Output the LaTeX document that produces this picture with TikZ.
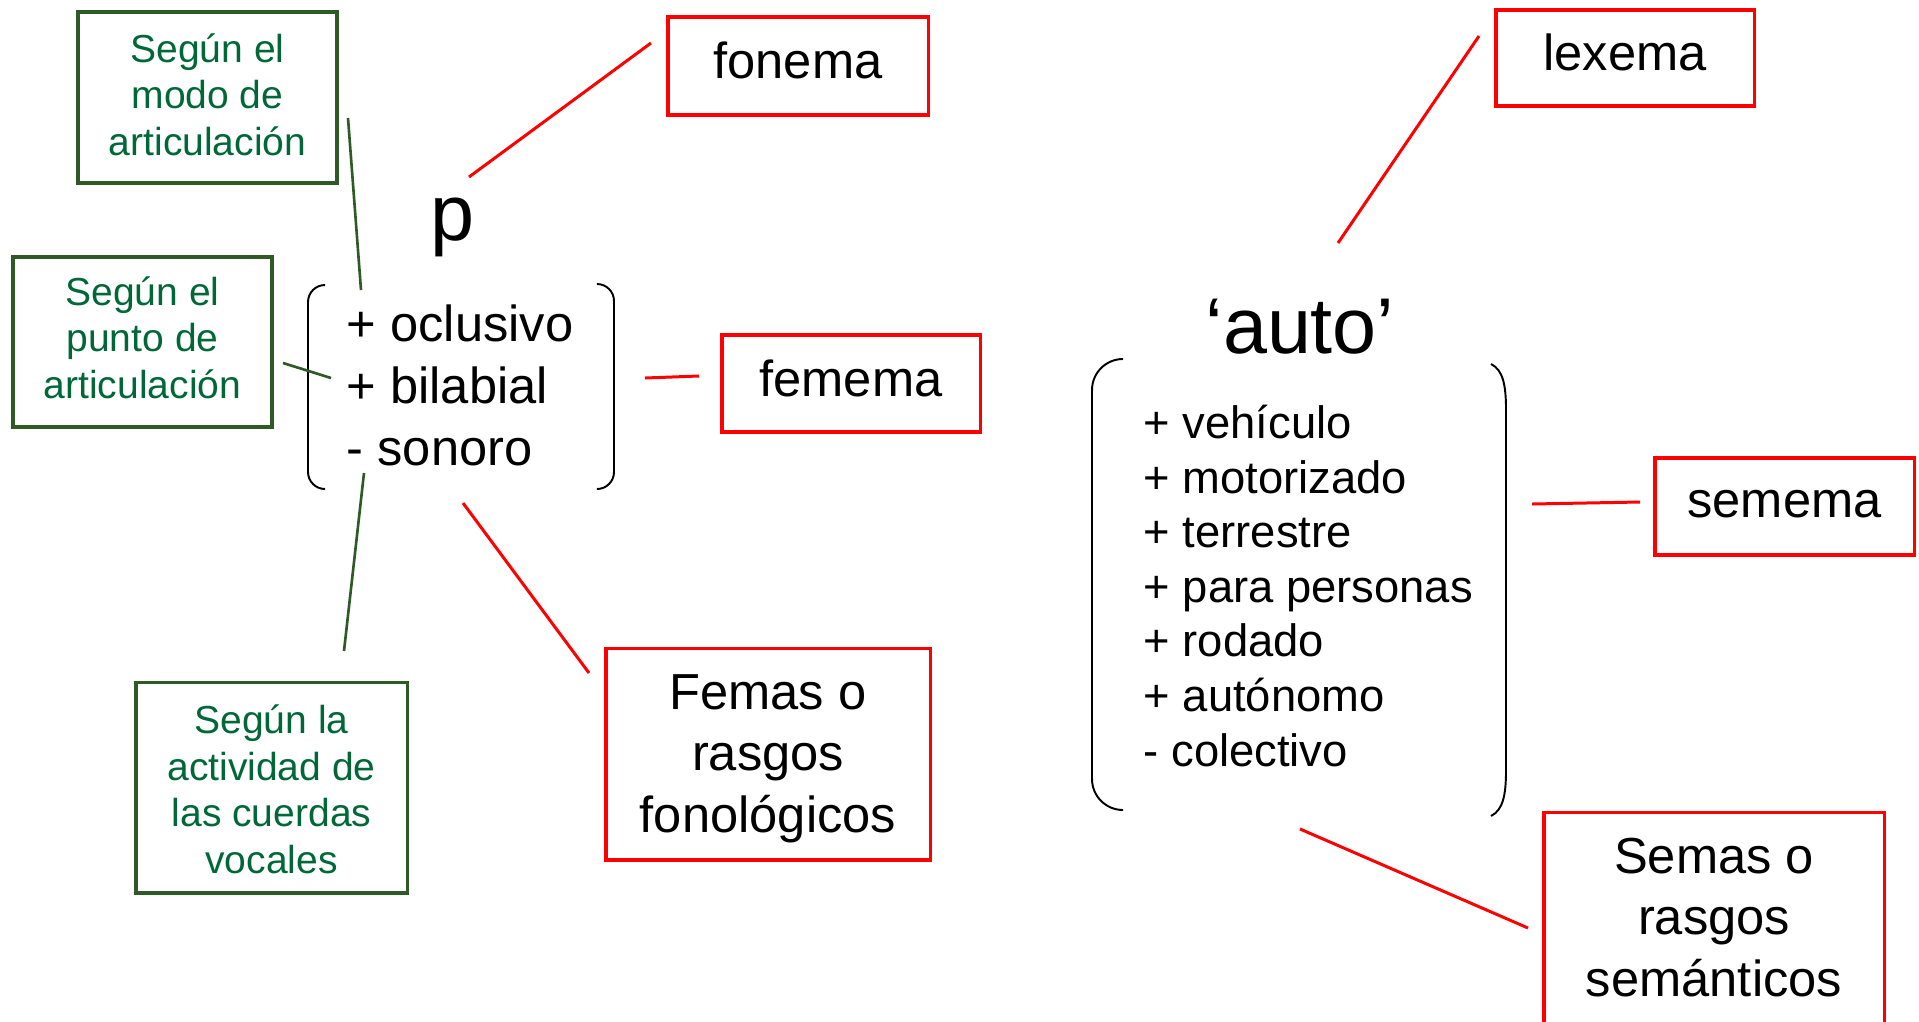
\documentclass[tikz,border=0pt]{standalone}
\usepackage{fontspec}
\setmainfont{Liberation Sans}
\usepackage{tikz}
\definecolor{verdeborde}{RGB}{47,90,38}
\definecolor{verdetexto}{RGB}{0,104,55}

\begin{document}
\begin{tikzpicture}[x=0.01cm, y=-0.01cm,
    cajaroja/.style={draw=red, line width=0.9pt, inner sep=0pt, align=center, anchor=base,
      font=\fontsize{14.4pt}{17.4pt}\selectfont},
    cajaverde/.style={draw=verdeborde, line width=0.9pt, inner sep=0pt, align=center, anchor=base,
      text=verdetexto, font=\fontsize{11.1pt}{13.2pt}\selectfont},
    linroja/.style={red, line width=0.85pt},
    linverde/.style={verdeborde, line width=0.75pt},
    corchete/.style={black, line width=0.55pt}]
    \useasboundingbox (0,0) rectangle (1919,1021);
    % Fonema and its features
    \node[anchor=base, inner sep=0pt, font=\fontsize{22.5pt}{27pt}\selectfont] (p) at (452,240) {p};
    \node[anchor=base west, inner sep=0pt, align=left, font=\fontsize{14.4pt}{17.5pt}\selectfont] (rasgosp) at (346,465) {+ oclusivo\\+ bilabial\\- sonoro};
    \draw[corchete, rounded corners=0.17cm] (325,285) -- (308,285) -- (308,489) -- (325,489);
    \draw[corchete, rounded corners=0.17cm] (597,284) -- (614,284) -- (614,489) -- (597,489);
    % Green boxes
    \node[cajaverde, minimum width=2.59cm, text height=1.43cm, text depth=0.28cm] (modo) at (207.5,155) {Según el\\modo de\\articulación};
    \node[cajaverde, minimum width=2.59cm, text height=1.41cm, text depth=0.29cm] (punto) at (142.5,398) {Según el\\punto de\\articulación};
    \node[cajaverde, minimum width=2.71cm, text height=1.90cm, text depth=0.20cm] (actividad) at (271.5,873) {Según la\\actividad de\\las cuerdas\\vocales};
    % Red boxes on the left
    \node[cajaroja, minimum width=2.60cm, text height=0.61cm, text depth=0.37cm] (fonema) at (798,78) {fonema};
    \node[cajaroja, minimum width=2.58cm, text height=0.61cm, text depth=0.36cm] (femema) at (851,396) {femema};
    \node[cajaroja, minimum width=3.24cm, text height=1.83cm, text depth=0.28cm] (femas) at (768,832) {Femas o\\rasgos\\fonológicos};
    % Lexema and its features
    \node[anchor=base, inner sep=0pt, font=\fontsize{22.5pt}{27pt}\selectfont] (auto) at (1300,353) {‘auto’};
    \node[anchor=base west, inner sep=0pt, align=left, font=\fontsize{12.9pt}{15.5pt}\selectfont] (rasgosauto) at (1143,766) {+ vehículo\\+ motorizado\\+ terrestre\\+ para personas\\+ rodado\\+ autónomo\\- colectivo};
    \draw[corchete, rounded corners=0.31cm] (1123,359) -- (1092,359) -- (1092,810) -- (1123,810);
    \draw[corchete] (1491,364) .. controls (1503,370) and (1506,385) .. (1506,410) -- (1506,770) .. controls (1506,795) and (1503,810) .. (1491,816);
    % Red boxes on the right
    \node[cajaroja, minimum width=2.58cm, text height=0.60cm, text depth=0.36cm] (lexema) at (1625,70) {lexema};
    \node[cajaroja, minimum width=2.59cm, text height=0.59cm, text depth=0.38cm] (semema) at (1784.5,517) {semema};
    \node[cajaroja, minimum width=3.40cm, text height=1.83cm, text depth=1.00cm] (semas) at (1714,996) {Semas o\\rasgos\\semánticos};
    % Connector ends
    \coordinate (fonemaA) at (469,177);  \coordinate (fonemaB) at (651,43);
    \coordinate (fememaA) at (645,378);  \coordinate (fememaB) at (699,376);
    \coordinate (femasA) at (463,503);   \coordinate (femasB) at (589,673);
    \coordinate (modoA) at (361,290);    \coordinate (modoB) at (348,118);
    \coordinate (puntoA) at (331,378);   \coordinate (puntoB) at (283,363);
    \coordinate (activA) at (364,473);   \coordinate (activB) at (344,651);
    \coordinate (lexemaA) at (1338,243); \coordinate (lexemaB) at (1479,36);
    \coordinate (sememaA) at (1532,504); \coordinate (sememaB) at (1640,502);
    \coordinate (semasA) at (1300,829);  \coordinate (semasB) at (1528,928);
    % Draw the connectors
    \draw[linroja] (fonemaA) -- (fonemaB);
    \draw[linroja] (fememaA) -- (fememaB);
    \draw[linroja] (femasA) -- (femasB);
    \draw[linverde] (modoA) -- (modoB);
    \draw[linverde] (puntoA) -- (puntoB);
    \draw[linverde] (activA) -- (activB);
    \draw[linroja] (lexemaA) -- (lexemaB);
    \draw[linroja] (sememaA) -- (sememaB);
    \draw[linroja] (semasA) -- (semasB);
\end{tikzpicture}
\end{document}
